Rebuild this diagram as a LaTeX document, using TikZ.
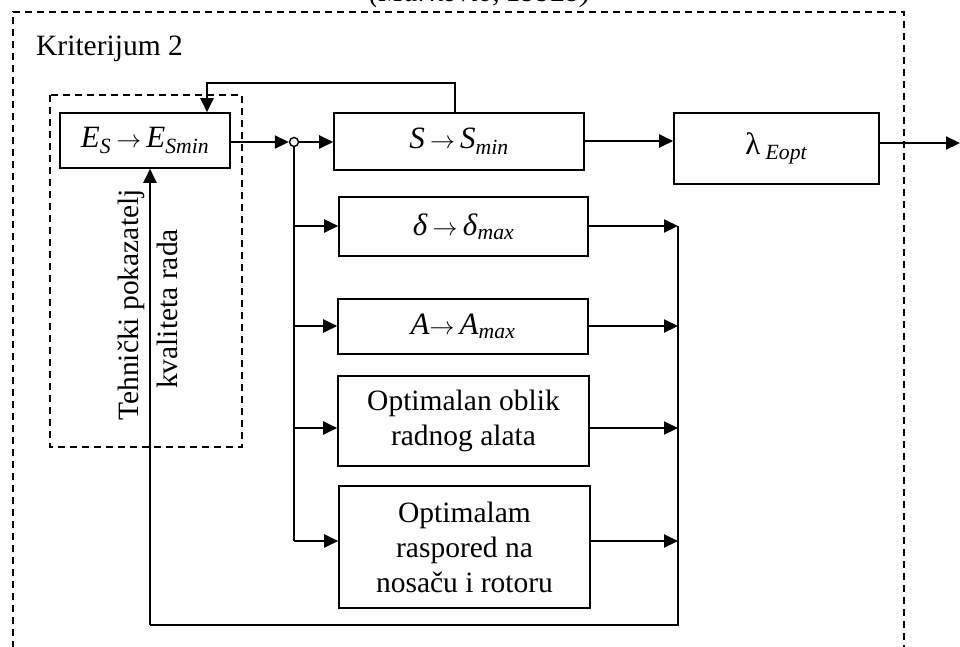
\documentclass[tikz,border=0pt]{standalone}
\usepackage{fontspec}
\setmainfont{Liberation Serif}
\usetikzlibrary{arrows.meta}
\begin{document}
\begin{tikzpicture}[x=1pt,y=-1pt,
  font=\fontsize{29.5}{35}\selectfont,
  mth/.style={font=\fontsize{31}{36}\selectfont},
  blk/.style={draw,line width=1.6pt,minimum width=#1,inner sep=0pt,align=center},
  conn/.style={line width=2.1pt},
  arr/.style={line width=2.1pt,-{Triangle[length=14pt,width=13pt]}},
  dsh/.style={line width=1.6pt,dash pattern=on 7pt off 5pt}]
\useasboundingbox (0,0) rectangle (960,646);
% frames
\draw[dsh] (13,660) -- (13,12) -- (904,12) -- (904,660);
\draw[dsh] (50,95) rectangle (242,447);
\node[font=\fontsize{29.5}{35}\selectfont\itshape,anchor=base] (title) at (480,1) {(Marković, 1992b)};
\node[anchor=base west,inner sep=0pt] (krit) at (36,55) {Kriterijum 2};
% blocks
\node[blk=170pt,minimum height=55pt,mth] (es) at (145,140.5) {\textit{E}\textsubscript{\textit{S}}\,$\rightarrow$\,\textit{E}\textsubscript{\textit{Smin}}};
\node[draw,circle,line width=1.4pt,minimum size=9pt,inner sep=0pt] (c) at (294,142) {};
\node[blk=250pt,minimum height=57pt,mth] (s) at (459,141.5) {\textit{S}\,$\rightarrow$\,\textit{S}\textsubscript{\textit{min}}};
\node[blk=205pt,minimum height=71pt,mth] (lam) at (776.5,148.5) {λ\,\textsubscript{\textit{Eopt}}};
\node[blk=249pt,minimum height=59pt,mth] (d) at (463.5,226.5) {\textit{δ}\,$\rightarrow$\,\textit{δ}\textsubscript{\textit{max}}};
\node[blk=250pt,minimum height=55pt,mth] (a) at (463,326.5) {\textit{A}$\rightarrow$\,\textit{A}\textsubscript{\textit{max}}};
\node[blk=251pt,minimum height=90pt] (o1) at (463.5,421) {Optimalan oblik\\radnog alata};
\node[blk=251pt,minimum height=122pt] (o2) at (464.5,547) {Optimalam\\raspored na\\nosaču i rotoru};
% rotated text
\node[rotate=90,inner sep=0pt] (t1) at (131,305) {Tehnički pokazatelj};
\node[rotate=90,inner sep=0pt] (t2) at (167,309) {kvaliteta rada};
% coordinates
\coordinate (fb) at (455,83);
\coordinate (fb2) at (207,83);
\coordinate (b1) at (294,226);
\coordinate (b2) at (294,326);
\coordinate (b3) at (294,428);
\coordinate (b4) at (294,541);
\coordinate (rt) at (678,226);
\coordinate (rbot) at (678,625);
\coordinate (lbot) at (150,625);
\coordinate (out) at (960,143);
% connectors
\draw[arr] (es.east |- c) -- (c.west);
\draw[arr] (c.east) -- (c.east -| s.west);
\draw[arr] (s.east |- 0,141) -- (lam.west |- 0,141);
\draw[arr] (lam.east |- out) -- (out);
\draw[arr] (fb |- s.north) -- (fb) -- (fb2) -- (fb2 |- es.north);
\draw[conn] (c.south) -- (b4);
\draw[arr] (b1) -- (b1 -| d.west);
\draw[arr] (b2) -- (b2 -| a.west);
\draw[arr] (b3) -- (b3 -| o1.west);
\draw[arr] (b4) -- (b4 -| o2.west);
\draw[arr] (d.east |- b1) -- (rt);
\draw[arr] (a.east |- b2) -- (b2 -| rt);
\draw[arr] (o1.east |- b3) -- (b3 -| rt);
\draw[arr] (o2.east |- b4) -- (b4 -| rt);
\draw[conn] (rt) -- (rbot) -- (lbot);
\draw[arr] (lbot) -- (lbot |- es.south);
\end{tikzpicture}
\end{document}
